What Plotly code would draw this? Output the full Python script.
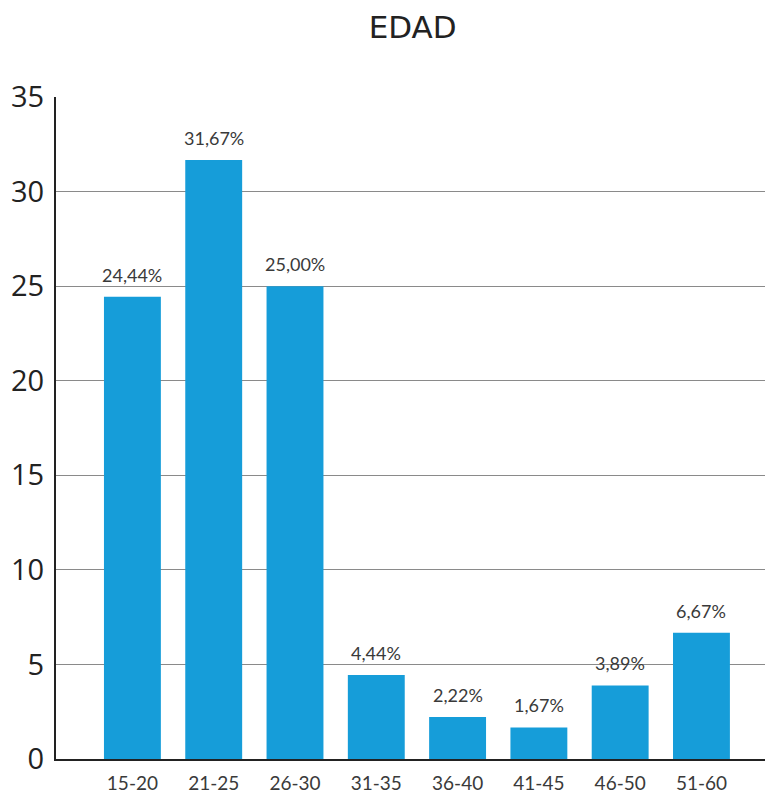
import plotly.graph_objects as go

categories = ["15-20", "21-25", "26-30", "31-35", "36-40", "41-45", "46-50", "51-60"]
values = [24.44, 31.67, 25.00, 4.44, 2.22, 1.67, 3.89, 6.67]
labels = ["24,44%", "31,67%", "25,00%", "4,44%", "2,22%", "1,67%", "3,89%", "6,67%"]
y_ticks = [0, 5, 10, 15, 20, 25, 30, 35]

xs = list(range(len(categories)))
fig = go.Figure(go.Bar(
    x=xs,
    y=values,
    marker=dict(color="#169DD9", line=dict(width=0)),
    cliponaxis=False,
    width=0.7,
))

for x, v, t in zip(xs, values, labels):
    fig.add_annotation(x=x, y=v, text=t, showarrow=False, yshift=22,
                       font=dict(size=18, color="#3a3a3a", family="Lato, sans-serif"))

# The page body has an 8px margin, so the figure is 8px smaller than the window.
fig.update_layout(
    width=765, height=786,
    margin=dict(l=48, r=0, t=89, b=35),
    paper_bgcolor="white", plot_bgcolor="white",
    title=dict(text="EDAD", x=0.529, xanchor="center", y=0.976, yanchor="middle",
               font=dict(size=31, color="#222222", family="DejaVu Sans, sans-serif")),
    showlegend=False,
    bargap=0.3,
)
fig.update_xaxes(
    tickvals=xs, ticktext=categories,
    range=[-0.94, 7.88],
    showgrid=False, zeroline=False, automargin=False,
    showline=True, linecolor="#222222", linewidth=2,
    ticks="", ticklabelstandoff=6,
    tickfont=dict(size=19, color="#3a3a3a", family="Lato, sans-serif"),
)
fig.update_yaxes(
    range=[0, 35], tickvals=y_ticks, automargin=False,
    showgrid=True, gridcolor="#8a8a8a", gridwidth=1,
    zeroline=False,
    showline=True, linecolor="#222222", linewidth=2,
    ticks="", ticklabelstandoff=4,
    tickfont=dict(size=29, color="#222222", family="Open Sans, sans-serif"),
)
fig.write_html("out.html")
